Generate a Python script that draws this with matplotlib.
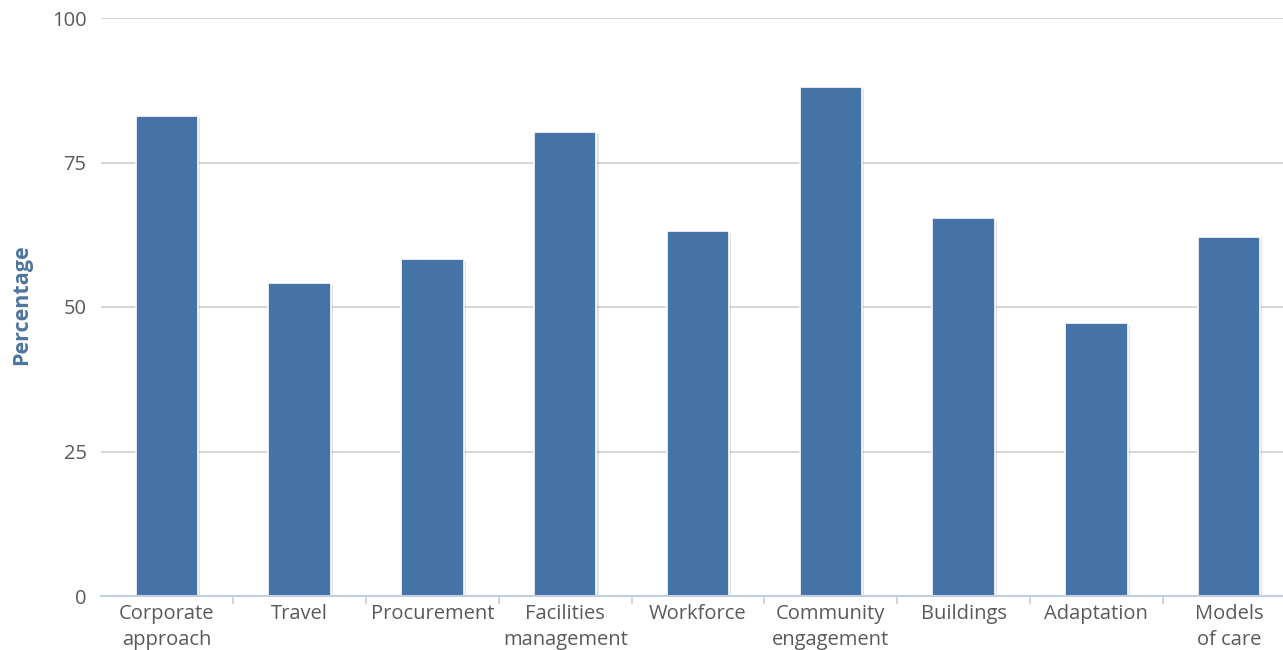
import matplotlib
matplotlib.use("Agg")
import matplotlib.pyplot as plt
import matplotlib.patheffects as pe
import numpy as np

categories = ["Corporate\napproach", "Travel", "Procurement", "Facilities\nmanagement",
              "Workforce", "Community\nengagement", "Buildings", "Adaptation", "Models\nof care"]
values = [83.0, 54.2, 58.3, 80.3, 63.1, 88.1, 65.4, 47.2, 62.1]
yticks = [0, 25, 50, 75, 100]

plt.rcParams['font.family'] = ['Open Sans', 'DejaVu Sans']

fig = plt.figure(figsize=(12.83, 6.5), dpi=100)
ax = fig.add_axes([100.5/1283, 1-596/650, 1195/1283, 578/650])

x = np.arange(len(categories))
bars = ax.bar(x, values, width=0.47, color="#4572A7", edgecolor="white", linewidth=1.2, zorder=3)
for b in bars:
    b.set_path_effects([pe.SimplePatchShadow(offset=(1.5, -1.5), shadow_rgbFace="#000000", alpha=0.12),
                        pe.Normal()])

ax.set_xlim(-0.5, len(categories) - 0.5)
ax.set_ylim(0, 100)
ax.set_yticks(yticks)
ax.set_yticklabels([str(v) for v in yticks])
ax.grid(axis='y', color="#CFCFCF", linewidth=1.2, zorder=0)
ax.set_axisbelow(True)

for s in ["top", "right", "left"]:
    ax.spines[s].set_visible(False)
ax.spines["bottom"].set_color("#C0D0E0")
ax.spines["bottom"].set_linewidth(1.5)
ax.spines["bottom"].set_zorder(4)

ax.set_xticks(x)
ax.set_xticklabels(categories, fontsize=14.5, color="#5A5A5A", linespacing=1.35, va="top")
ax.tick_params(axis='x', which='major', length=0, pad=6)
ax.set_xticks(np.arange(len(categories) - 1) + 0.5, minor=True)
ax.tick_params(axis='x', which='minor', length=6, color="#C0D0E0", width=1.2)
ax.tick_params(axis='y', length=0, pad=10, labelsize=14.5, labelcolor="#5A5A5A")

fig.text(22/1283, 1-305/650, "Percentage", rotation=90, fontsize=15.5, fontweight="bold",
         color="#4D759E", ha="center", va="center")

fig.savefig("out.png", dpi=100, facecolor="white")
